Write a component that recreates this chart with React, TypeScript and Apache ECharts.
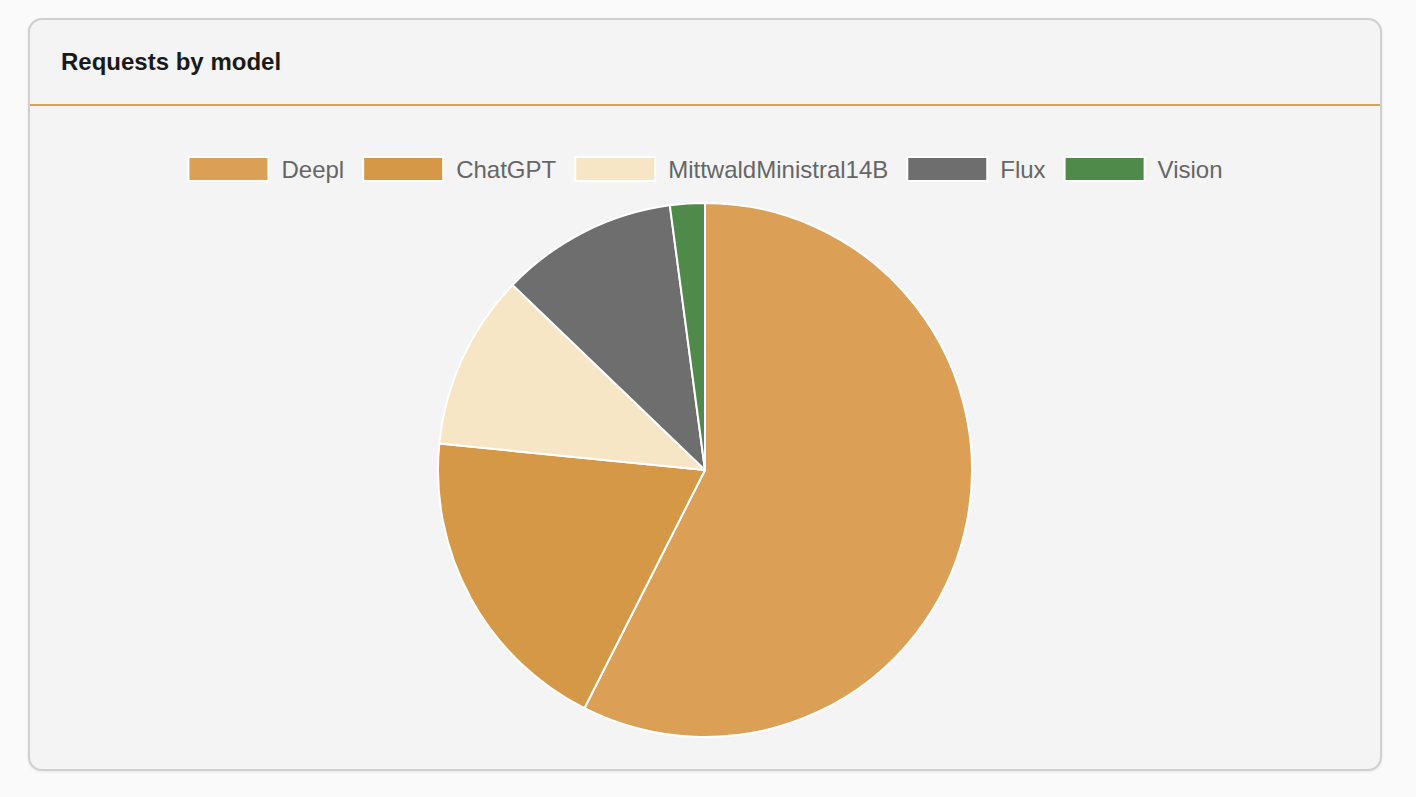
import React, { useEffect, useRef } from "react";
import * as echarts from "echarts";

const categories = ["Deepl", "ChatGPT", "MittwaldMinistral14B", "Flux", "Vision"];
const values = [574, 191, 106, 107, 21];
const colors = ["#dba055", "#d49847", "#f6e6c6", "#6e6e6e", "#4f8a4a"];

export default function App() {
  const ref = useRef<HTMLDivElement>(null);
  useEffect(() => {
    if (!ref.current) return;
    const chart = echarts.init(ref.current, null, { renderer: "svg" });
    chart.setOption({
      animation: false,
      color: colors,
      legend: {
        top: 45,
        left: "center",
        itemWidth: 80,
        itemHeight: 24,
        itemGap: 18,
        icon: "rect",
        data: categories,
        textStyle: {
          fontSize: 24,
          color: "#666",
          fontFamily: "'Liberation Sans', Arial, sans-serif",
          padding: [0, 0, 0, 8],
        },
      },
      series: [
        {
          type: "pie",
          center: [675, 364],
          radius: 267,
          startAngle: 90,
          clockwise: true,
          label: { show: false },
          labelLine: { show: false },
          itemStyle: { borderColor: "#fff", borderWidth: 2 },
          emphasis: { disabled: true },
          data: categories.map((name, i) => ({ name, value: values[i] })),
        },
      ],
    });
    return () => chart.dispose();
  }, []);

  return (
    <div
      style={{
        position: "fixed",
        inset: 0,
        background: "#fafafa",
        fontFamily: "'Liberation Sans', Arial, sans-serif",
      }}
    >
      <div
        style={{
          position: "absolute",
          left: 28,
          top: 18,
          width: 1354,
          height: 753,
          boxSizing: "border-box",
          border: "2px solid #cfcfcf",
          borderRadius: 14,
          background: "#f4f4f4",
          boxShadow: "0 1px 3px rgba(0,0,0,0.08)",
          overflow: "hidden",
        }}
      >
        <div
          style={{
            height: 86,
            boxSizing: "border-box",
            borderBottom: "2px solid #dba055",
            display: "flex",
            alignItems: "center",
            paddingLeft: 31,
            paddingBottom: 1,
            fontWeight: "bold",
            fontSize: 24,
            color: "#1a1a1a",
          }}
        >
          Requests by model
        </div>
        <div ref={ref} style={{ width: 1350, height: 663 }} />
      </div>
    </div>
  );
}
